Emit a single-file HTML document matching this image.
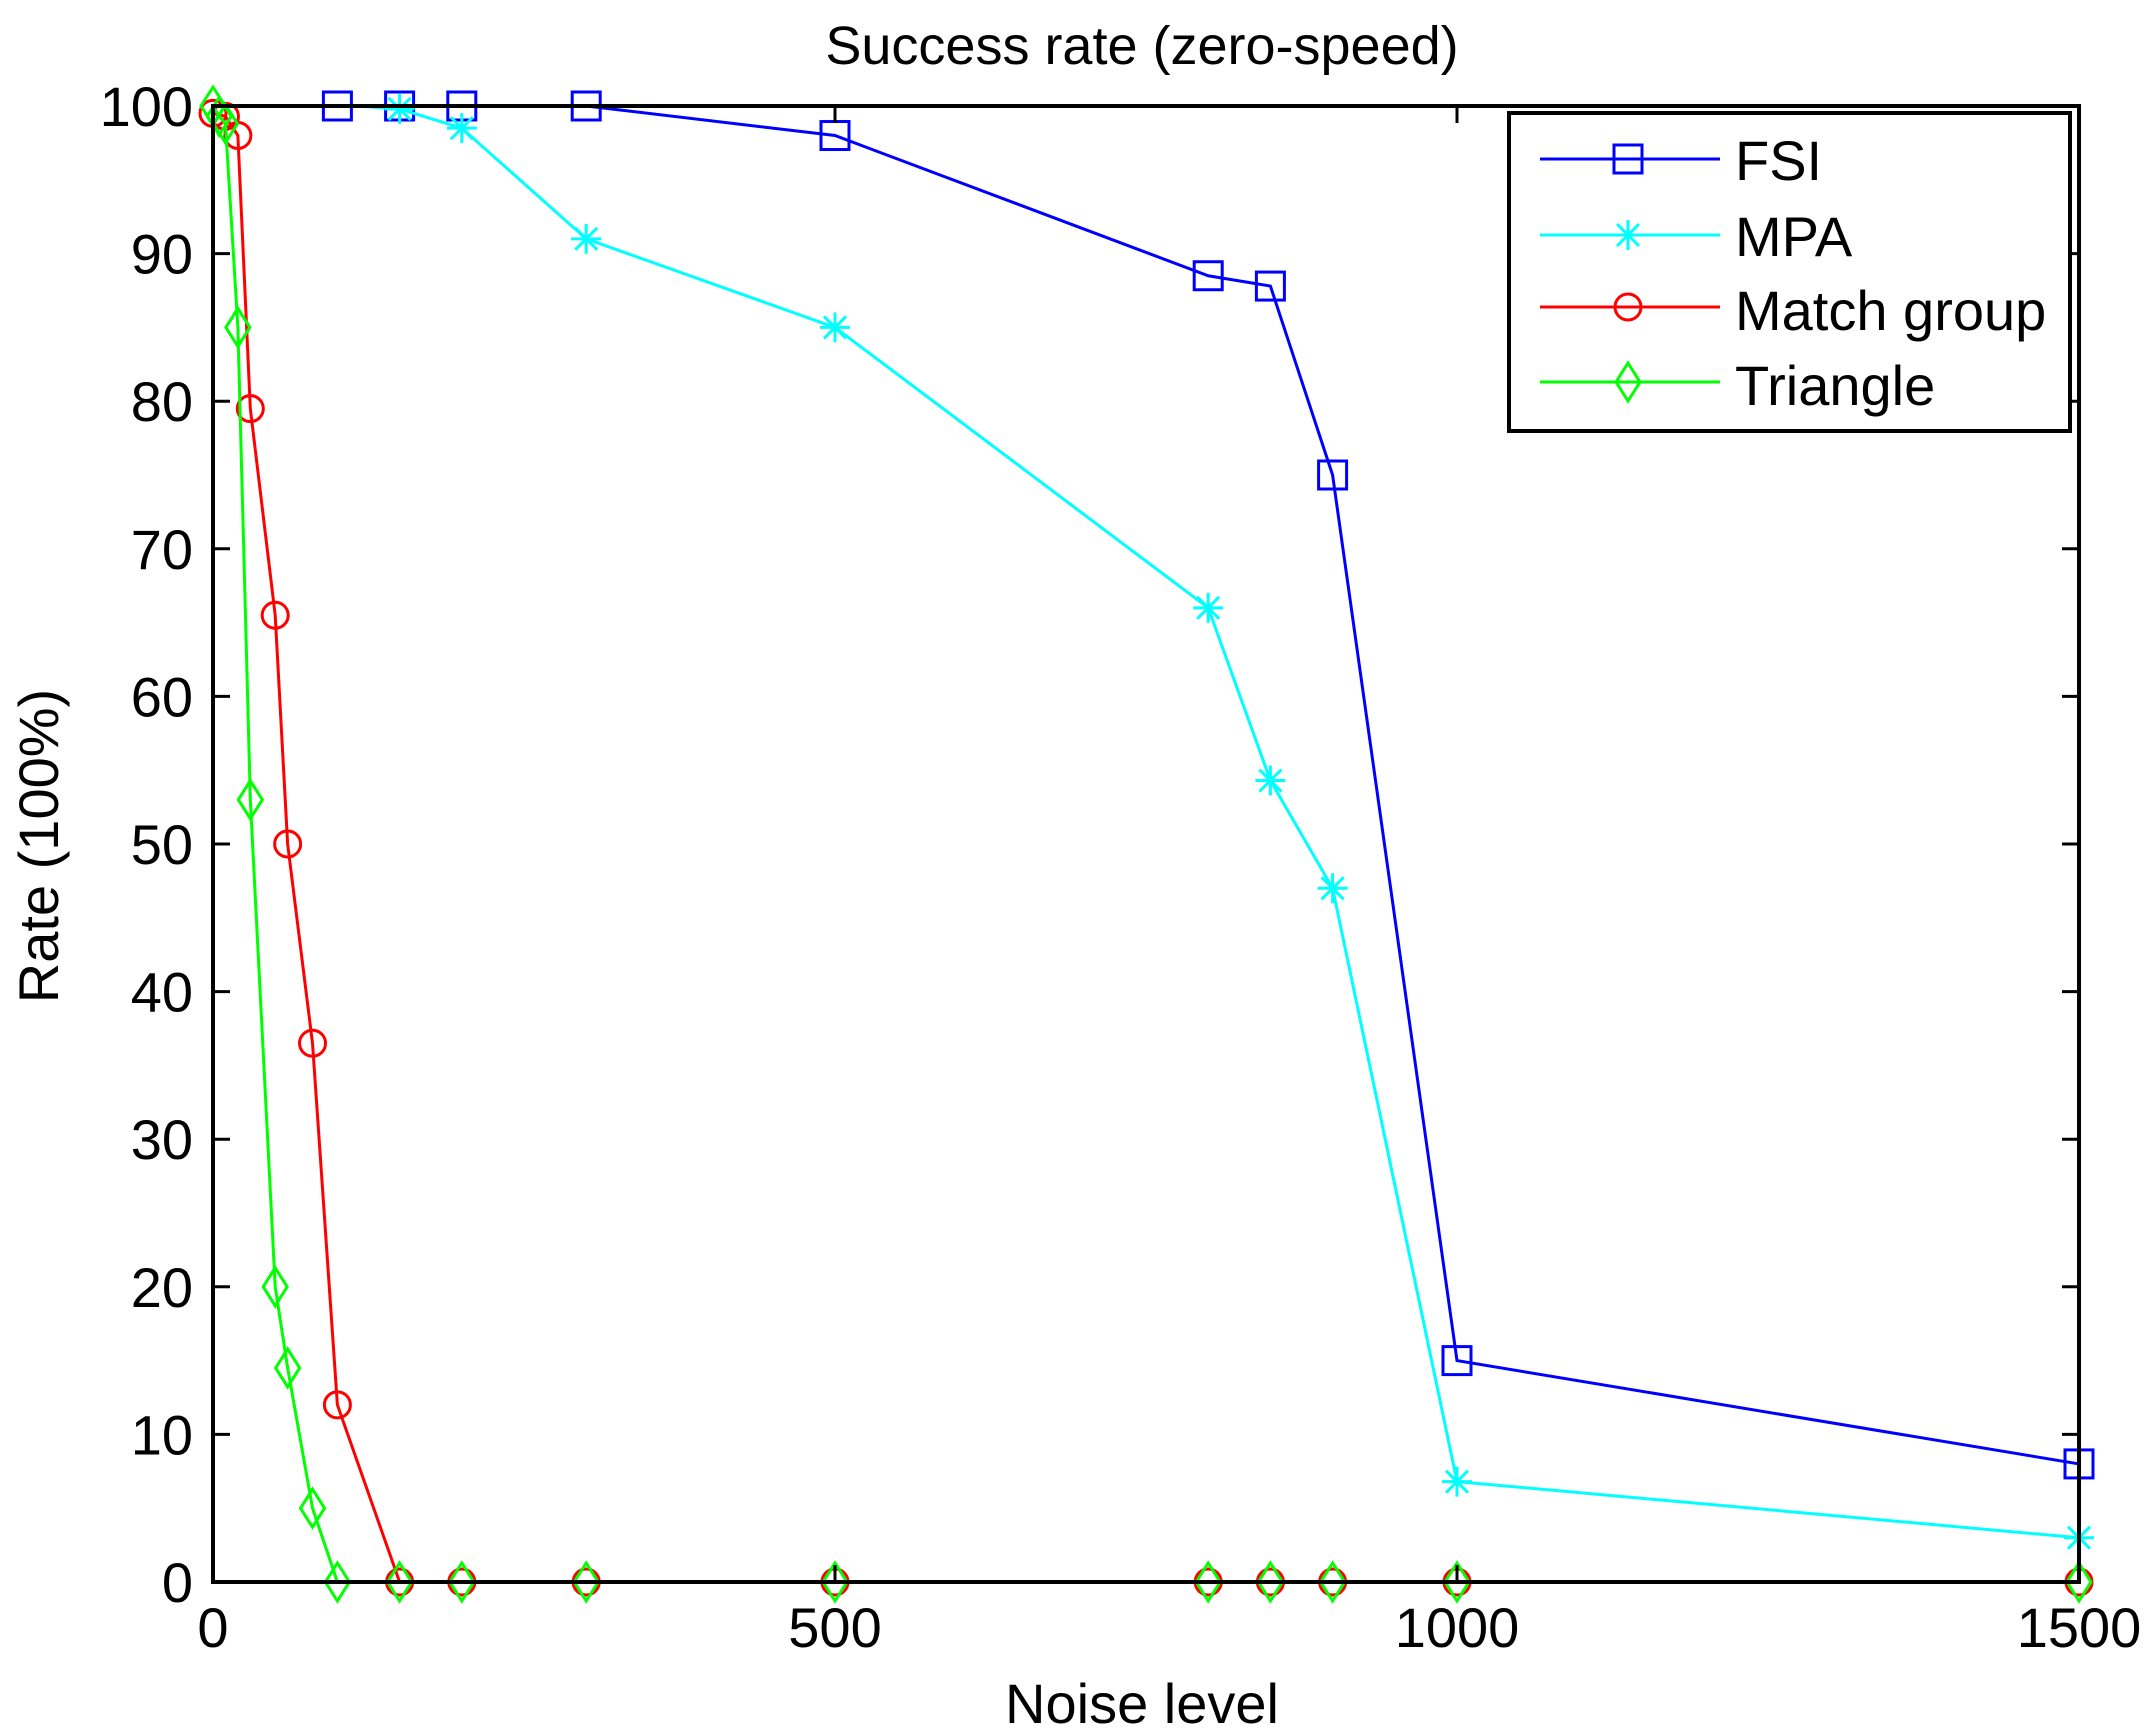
<!DOCTYPE html>
<html><head><style>
html,body{margin:0;padding:0;background:#fff;}
svg{display:block;}
text{font-family:"Liberation Sans",sans-serif;fill:#000;}
</style></head><body>
<svg width="2153" height="1732" viewBox="0 0 2153 1732" xmlns="http://www.w3.org/2000/svg">
<defs>
<g id="sq"><rect x="-14" y="-14" width="28" height="28" fill="none" stroke="#0000ff" stroke-width="3"/></g>
<g id="st" stroke="#00ffff" stroke-width="3"><line x1="-15" y1="0" x2="15" y2="0"/><line x1="0" y1="-15" x2="0" y2="15"/><line x1="-11" y1="-11" x2="11" y2="11"/><line x1="-11" y1="11" x2="11" y2="-11"/></g>
<g id="ci"><circle r="13" fill="none" stroke="#ff0000" stroke-width="3"/></g>
<g id="di"><polygon points="0,-19 12,0 0,19 -12,0" fill="none" stroke="#00ff00" stroke-width="3"/></g>
</defs>
<rect width="2153" height="1732" fill="#fff"/>
<text x="1142" y="64" font-size="54" text-anchor="middle">Success rate (zero-speed)</text>
<text x="1142" y="1723" font-size="56" text-anchor="middle">Noise level</text>
<text transform="translate(58,846) rotate(-90)" font-size="56" text-anchor="middle">Rate (100%)</text>
<g id="plot"></g>
<rect x="213" y="106" width="1866" height="1476" fill="none" stroke="#000" stroke-width="4"/>
<g stroke="#000" stroke-width="3" id="ticks"></g>
<g font-size="56" id="labels"></g>
<rect x="1509" y="113" width="561" height="318" fill="#fff" stroke="#000" stroke-width="4"/>
<g font-size="56">
<line x1="1540" y1="159" x2="1720" y2="159" stroke="#0000ff" stroke-width="3"/><use href="#sq" x="1628" y="159"/><text x="1735" y="180">FSI</text>
<line x1="1540" y1="235" x2="1720" y2="235" stroke="#00ffff" stroke-width="3"/><use href="#st" x="1628" y="235"/><text x="1735" y="256">MPA</text>
<line x1="1540" y1="307" x2="1720" y2="307" stroke="#ff0000" stroke-width="3"/><use href="#ci" x="1628" y="307"/><text x="1735" y="330">Match group</text>
<line x1="1540" y1="382" x2="1720" y2="382" stroke="#00ff00" stroke-width="3"/><use href="#di" x="1628" y="382"/><text x="1735" y="405">Triangle</text>
</g>
</svg>
<script>
var L=213,R=2079,T=106,B=1582;
function X(v){return L+(R-L)*v/1500;}function Y(v){return B-(B-T)*v/100;}
var NS="http://www.w3.org/2000/svg";
function el(p,n,a){var e=document.createElementNS(NS,n);for(var k in a)e.setAttribute(k,a[k]);p.appendChild(e);return e;}
var plot=document.getElementById('plot');
var series=[
{c:"#0000ff",m:"sq",w:3,d:[[100,100],[150,100],[200,100],[300,100],[500,98],[800,88.5],[850,87.8],[900,75],[1000,15],[1500,8]]},
{c:"#00ffff",m:"st",w:3,s:1,d:[[115,100],[150,99.8],[200,98.5],[300,91],[500,85],[800,66],[850,54.3],[900,47],[1000,6.8],[1500,3]]},
{c:"#ff0000",m:"ci",w:3,d:[[0,99.5],[10,99.3],[20,98],[30,79.5],[50,65.5],[60,50],[80,36.5],[100,12],[150,0],[200,0],[300,0],[500,0],[800,0],[850,0],[900,0],[1000,0],[1500,0]]},
{c:"#00ff00",m:"di",w:3,d:[[0,100],[5,99.3],[10,98.8],[20,85],[30,53],[50,20],[60,14.5],[80,5],[100,0],[150,0],[200,0],[300,0],[500,0],[800,0],[850,0],[900,0],[1000,0],[1500,0]]}
];
series.forEach(function(s){
 el(plot,'polyline',{points:s.d.map(function(p){return X(p[0])+','+Y(p[1]);}).join(' '),fill:'none',stroke:s.c,'stroke-width':s.w});
 s.d.forEach(function(p,i){if(s.s&&i<s.s)return;el(plot,'use',{href:'#'+s.m,x:X(p[0]),y:Y(p[1])});});
});
var tk=document.getElementById('ticks'),lb=document.getElementById('labels');
for(var v=0;v<=100;v+=10){var y=Y(v);
 if(v>0&&v<100){el(tk,'line',{x1:L,y1:y,x2:L+17,y2:y});el(tk,'line',{x1:R,y1:y,x2:R-17,y2:y});}
 var t=el(lb,'text',{x:193,y:y+20,'text-anchor':'end'});t.textContent=v;}
[0,500,1000,1500].forEach(function(v){var x=X(v);
 if(v>0&&v<1500){el(tk,'line',{x1:x,y1:B,x2:x,y2:B-17});el(tk,'line',{x1:x,y1:T,x2:x,y2:T+17});}
 var t=el(lb,'text',{x:x,y:1647,'text-anchor':'middle'});t.textContent=v;});
</script>
</body></html>
